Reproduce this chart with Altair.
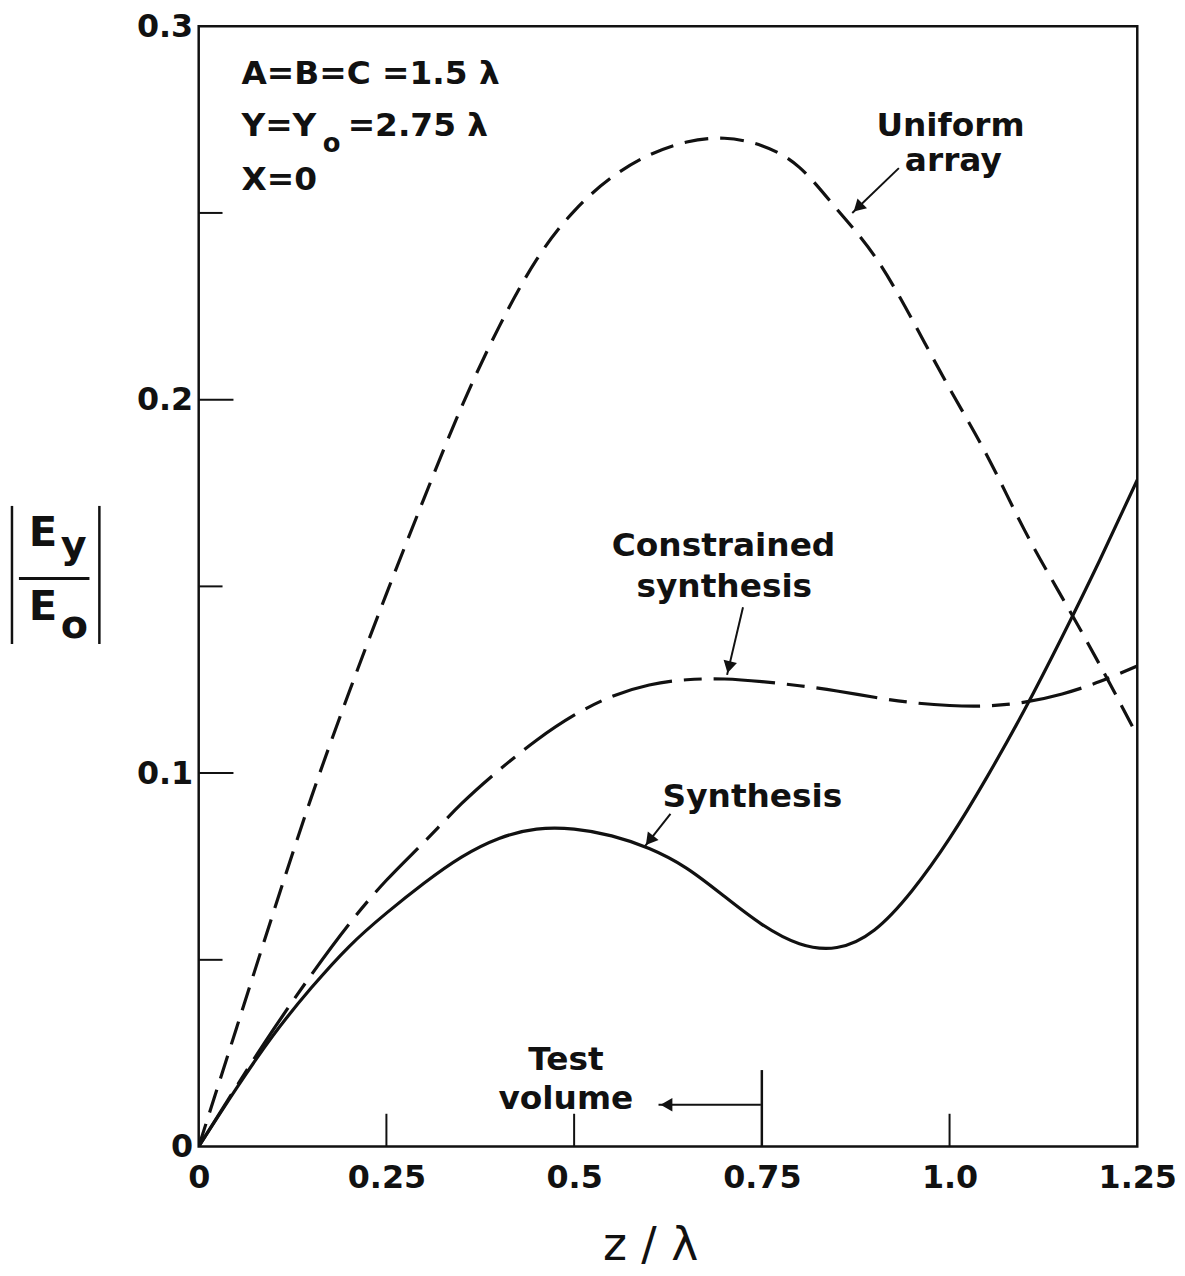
import math
import altair as alt
import pandas as pd

# ---------------- data ----------------
z = [0, 0.05, 0.1, 0.15, 0.2, 0.25, 0.3, 0.35, 0.4, 0.45, 0.5, 0.55, 0.6,
     0.65, 0.7, 0.75, 0.8, 0.85, 0.9, 0.95, 1.0, 1.05, 1.1, 1.15, 1.2, 1.25]
uniform = [0, 0.0315, 0.063, 0.0935, 0.1215, 0.148, 0.1735, 0.198, 0.2195,
           0.2375, 0.2505, 0.2595, 0.2655, 0.2690, 0.2700, 0.2680, 0.2622,
           0.2510, 0.2385, 0.2215, 0.2030, 0.1850, 0.1650, 0.1470, 0.1290,
           0.1100]
synthesis = [0, 0.0155, 0.0300, 0.0425, 0.0535, 0.0625, 0.0705, 0.0775,
             0.0825, 0.0850, 0.0850, 0.0832, 0.0798, 0.0745, 0.0670, 0.0595,
             0.0543, 0.0533, 0.0580, 0.0685, 0.0825, 0.0990, 0.1170, 0.1365,
             0.1570, 0.1785]
constrained = [0, 0.016, 0.0315, 0.0460, 0.0595, 0.0713, 0.0815, 0.0918,
               0.1008, 0.1088, 0.1155, 0.1205, 0.1236, 0.1250, 0.1252, 0.1245,
               0.1234, 0.1220, 0.1203, 0.1189, 0.1181, 0.1180, 0.1190, 0.1212,
               0.1245, 0.1287]

x_label_values = [0, 0.25, 0.5, 0.75, 1.0, 1.25]
y_label_values = [0, 0.1, 0.2, 0.3]
y_major_ticks = [0.1, 0.2]
y_minor_ticks = [0.05, 0.15, 0.25]
x_ticks = [0.25, 0.5, 1.0]
test_volume_edge = [0.75]

# annotation texts
left_texts = ["A=B=C =1.5  λ", "Y=Y", "=2.75 λ", "X=0"]
left_z = [0.0569, 0.0569, 0.1984, 0.0569]
left_v = [0.2846, 0.2705, 0.2705, 0.2561]
sub_texts = ["o"]
sub_z = [0.1653]
sub_v = [0.2662]
center_texts = ["Uniform", "array", "Constrained", "synthesis", "Synthesis",
                "Test", "volume"]
center_z = [1.0013, 1.005, 0.699, 0.700, 0.7375, 0.489, 0.489]
center_v = [0.2707, 0.2612, 0.1582, 0.1471, 0.0910, 0.0205, 0.0101]

# arrows: tail -> tip
arrow_tail_z = [0.9325, 0.7249, 0.6283, 0.7487]
arrow_tail_v = [0.2620, 0.1444, 0.0891, 0.0112]
arrow_tip_z = [0.8704, 0.7037, 0.5939, 0.6124]
arrow_tip_v = [0.2500, 0.1263, 0.0803, 0.0112]

# ---------------- chart ----------------
W, H = 945, 1128
XD, YD = [0, 1.25], [0, 0.3]
PX_X = W / (XD[1] - XD[0])
PX_Y = H / (YD[1] - YD[0])
FONT = "DejaVu Sans"
INK = "#111111"

xs = alt.Scale(domain=XD, nice=False, zero=False)
ys = alt.Scale(domain=YD, nice=False, zero=False)

x_axis = alt.Axis(values=x_label_values,
                  labelExpr="datum.value == 1 ? '1.0' : toString(datum.value)",
                  title=None, grid=False, ticks=False, tickSize=0, domain=False,
                  labelFont=FONT, labelFontSize=32, labelFontWeight="bold",
                  labelColor=INK, labelPadding=16, labelFlush=False,
                  labelOverlap=False, labelBound=False)
y_axis = alt.Axis(values=y_label_values,
                  labelExpr="toString(datum.value)",
                  title=None, grid=False, ticks=False, tickSize=0, domain=False,
                  labelFont=FONT, labelFontSize=32, labelFontWeight="bold",
                  labelColor=INK, labelPadding=6, labelFlush=False,
                  labelOverlap=False, labelBound=False)


def X(field):
    return alt.X(field, scale=xs, axis=x_axis)


def Y(field):
    return alt.Y(field, scale=ys, axis=y_axis)


def curve(values, dash=None):
    df = pd.DataFrame({"z": z, "v": values})
    kw = dict(color=INK, strokeWidth=3.2, interpolate="natural", clip=True)
    if dash:
        kw["strokeDash"] = dash
    return alt.Chart(df).mark_line(**kw).encode(x=X("z:Q"), y=Y("v:Q"))


uni = curve(uniform, dash=[24, 12])
syn = curve(synthesis)
con = curve(constrained, dash=[62, 12, 18, 12])

# inward ticks
ytick_major = alt.Chart(pd.DataFrame({"v": y_major_ticks})).mark_rule(
    color=INK, strokeWidth=2).encode(y=Y("v:Q"), x=alt.value(0), x2=alt.value(35))
ytick_minor = alt.Chart(pd.DataFrame({"v": y_minor_ticks})).mark_rule(
    color=INK, strokeWidth=2).encode(y=Y("v:Q"), x=alt.value(0), x2=alt.value(24))
xtick = alt.Chart(pd.DataFrame({"z": x_ticks})).mark_rule(
    color=INK, strokeWidth=2).encode(x=X("z:Q"), y=alt.value(H), y2=alt.value(H - 33))
xtick_tv = alt.Chart(pd.DataFrame({"z": test_volume_edge})).mark_rule(
    color=INK, strokeWidth=2.5).encode(x=X("z:Q"), y=alt.value(H), y2=alt.value(H - 77))

# arrows
arrow_df = pd.DataFrame({"z": arrow_tail_z, "v": arrow_tail_v,
                         "z2": arrow_tip_z, "v2": arrow_tip_v})
arrow_lines = alt.Chart(arrow_df).mark_rule(color=INK, strokeWidth=2).encode(
    x=X("z:Q"), y=Y("v:Q"), x2="z2:Q", y2="v2:Q")

head_rows = []
for zt, vt, zh, vh in zip(arrow_tail_z, arrow_tail_v, arrow_tip_z, arrow_tip_v):
    dx = (zh - zt) * PX_X
    dy = -(vh - vt) * PX_Y
    L = math.hypot(dx, dy)
    ux, uy = dx / L, dy / L
    ang = math.degrees(math.atan2(dx, -dy)) % 360
    back = 8
    head_rows.append({"z": zh - ux * back / PX_X,
                      "v": vh + uy * back / PX_Y,
                      "angle": ang})
heads = alt.Chart(pd.DataFrame(head_rows)).mark_point(
    shape="triangle-up", filled=True, size=190, color=INK, opacity=1,
    strokeWidth=0).encode(
    x=X("z:Q"), y=Y("v:Q"), angle=alt.Angle("angle:Q", scale=None))


# annotation texts
def texts(labels, zz, vv, align, size):
    df = pd.DataFrame({"t": labels, "z": zz, "v": vv})
    return alt.Chart(df).mark_text(
        align=align, baseline="alphabetic", font=FONT, fontSize=size,
        fontWeight="bold", color=INK).encode(
        x=X("z:Q"), y=Y("v:Q"), text="t:N")


t_left = texts(left_texts, left_z, left_v, "left", 33)
t_sub = texts(sub_texts, sub_z, sub_v, "left", 26)
t_center = texts(center_texts, center_z, center_v, "center", 33)

# y-axis title |E_y / E_o| built from pieces (pixel positions relative to plot)
one = alt.Data(values=[{}])


def ptext(s, x, y, size, weight="bold"):
    return alt.Chart(one).mark_text(
        text=s, align="left", baseline="alphabetic", font=FONT, fontSize=size,
        fontWeight=weight, color=INK).encode(x=alt.value(x), y=alt.value(y))


def prule(x, y, x2=None, y2=None, w=2.5):
    enc = dict(x=alt.value(x), y=alt.value(y))
    if x2 is not None:
        enc["x2"] = alt.value(x2)
    if y2 is not None:
        enc["y2"] = alt.value(y2)
    return alt.Chart(one).mark_rule(color=INK, strokeWidth=w).encode(**enc)


ytitle = [
    ptext("E", -171, 523, 42),
    ptext("y", -139, 535, 40),
    prule(-181, 556, x2=-110, w=3),
    ptext("E", -171, 598, 42),
    ptext("o", -139, 616, 40),
    prule(-188, 483, y2=622, w=2.5),
    prule(-100, 483, y2=622, w=2.5),
]

xtitle = alt.Chart(one).mark_text(
    text="z / λ", align="center", baseline="middle", font=FONT, fontSize=46,
    fontWeight="normal", color=INK).encode(x=alt.value(455), y=alt.value(1228))

chart = alt.layer(
    uni, con, syn, ytick_major, ytick_minor, xtick, xtick_tv,
    arrow_lines, heads, t_left, t_sub, t_center, xtitle, *ytitle
).properties(
    width=W, height=H,
    padding={"left": 192, "top": 14, "right": 40, "bottom": 126},
    autosize=alt.AutoSizeParams(type="none"),
    background="white",
).configure_view(stroke=INK, strokeWidth=2.5)

chart.save("out.html", embed_options={"renderer": "svg", "actions": False})
